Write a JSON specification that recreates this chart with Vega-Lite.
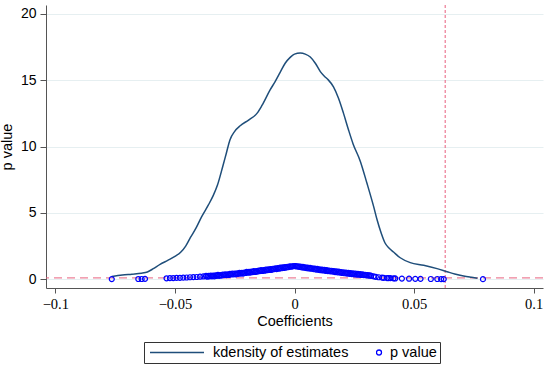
{
  "$schema": "https://vega.github.io/schema/vega-lite/v6.json",
  "width": 497,
  "height": 283,
  "autosize": "none",
  "padding": {"left": 46, "top": 5, "right": 7, "bottom": 79},
  "background": "white",
  "config": {"view": {"stroke": null}, "font": "Liberation Sans"},
  "datasets": {
    "density": [
      {"coef": -0.0764, "val": 0.20}, {"coef": -0.0720, "val": 0.32}, {"coef": -0.0680, "val": 0.38},
      {"coef": -0.0640, "val": 0.45}, {"coef": -0.0615, "val": 0.55}, {"coef": -0.0590, "val": 0.80},
      {"coef": -0.0562, "val": 1.12}, {"coef": -0.0530, "val": 1.42}, {"coef": -0.0500, "val": 1.72},
      {"coef": -0.0475, "val": 2.05}, {"coef": -0.0455, "val": 2.50}, {"coef": -0.0435, "val": 3.15},
      {"coef": -0.0412, "val": 3.85}, {"coef": -0.0388, "val": 4.72}, {"coef": -0.0360, "val": 5.60},
      {"coef": -0.0340, "val": 6.30}, {"coef": -0.0322, "val": 7.10}, {"coef": -0.0300, "val": 8.50},
      {"coef": -0.0285, "val": 9.50}, {"coef": -0.0270, "val": 10.50}, {"coef": -0.0250, "val": 11.15},
      {"coef": -0.0227, "val": 11.57}, {"coef": -0.0192, "val": 12.00}, {"coef": -0.0157, "val": 12.50},
      {"coef": -0.0136, "val": 13.10}, {"coef": -0.0102, "val": 14.27}, {"coef": -0.0081, "val": 14.90},
      {"coef": -0.0060, "val": 15.60}, {"coef": -0.0039, "val": 16.28}, {"coef": -0.0018, "val": 16.72},
      {"coef": 0.0000, "val": 16.97}, {"coef": 0.0024, "val": 17.05}, {"coef": 0.0045, "val": 16.97},
      {"coef": 0.0066, "val": 16.75}, {"coef": 0.0087, "val": 16.28}, {"coef": 0.0108, "val": 15.65},
      {"coef": 0.0125, "val": 15.30}, {"coef": 0.0140, "val": 15.05}, {"coef": 0.0163, "val": 14.50},
      {"coef": 0.0184, "val": 13.64}, {"coef": 0.0205, "val": 12.50}, {"coef": 0.0226, "val": 11.25},
      {"coef": 0.0245, "val": 10.20}, {"coef": 0.0275, "val": 8.90}, {"coef": 0.0303, "val": 7.23},
      {"coef": 0.0331, "val": 5.47}, {"coef": 0.0345, "val": 4.50}, {"coef": 0.0362, "val": 3.50},
      {"coef": 0.0378, "val": 2.75}, {"coef": 0.0395, "val": 2.35}, {"coef": 0.0414, "val": 2.05},
      {"coef": 0.0442, "val": 1.62}, {"coef": 0.0484, "val": 1.25}, {"coef": 0.0540, "val": 1.05},
      {"coef": 0.0596, "val": 0.80}, {"coef": 0.0638, "val": 0.57}, {"coef": 0.0670, "val": 0.40},
      {"coef": 0.0707, "val": 0.25}, {"coef": 0.0740, "val": 0.15}, {"coef": 0.0765, "val": 0.08}
    ],
    "pvals": [
      {"coef": -0.0764, "p": 0.01}, {"coef": -0.0653, "p": 0.02}, {"coef": -0.0639, "p": 0.02}, {"coef": -0.0625, "p": 0.03},
      {"coef": -0.0535, "p": 0.07}, {"coef": -0.0521, "p": 0.08}, {"coef": -0.0507, "p": 0.09}, {"coef": -0.0493, "p": 0.10},
      {"coef": -0.0479, "p": 0.11}, {"coef": -0.0465, "p": 0.12}, {"coef": -0.0451, "p": 0.13}, {"coef": -0.0437, "p": 0.15},
      {"coef": -0.0423, "p": 0.16}, {"coef": -0.0409, "p": 0.17}, {"coef": -0.0395, "p": 0.19}, {"coef": -0.0381, "p": 0.21},
      {"coef": -0.0370, "p": 0.25}, {"coef": -0.0365, "p": 0.19}, {"coef": -0.0360, "p": 0.25}, {"coef": -0.0355, "p": 0.22},
      {"coef": -0.0350, "p": 0.28}, {"coef": -0.0345, "p": 0.22}, {"coef": -0.0340, "p": 0.28}, {"coef": -0.0335, "p": 0.22},
      {"coef": -0.0330, "p": 0.30}, {"coef": -0.0325, "p": 0.26}, {"coef": -0.0320, "p": 0.33}, {"coef": -0.0315, "p": 0.26},
      {"coef": -0.0310, "p": 0.32}, {"coef": -0.0305, "p": 0.27}, {"coef": -0.0300, "p": 0.35}, {"coef": -0.0295, "p": 0.31},
      {"coef": -0.0290, "p": 0.37}, {"coef": -0.0285, "p": 0.31}, {"coef": -0.0280, "p": 0.37}, {"coef": -0.0275, "p": 0.32},
      {"coef": -0.0270, "p": 0.40}, {"coef": -0.0265, "p": 0.36}, {"coef": -0.0260, "p": 0.43}, {"coef": -0.0255, "p": 0.37},
      {"coef": -0.0250, "p": 0.42}, {"coef": -0.0245, "p": 0.37}, {"coef": -0.0240, "p": 0.45}, {"coef": -0.0235, "p": 0.41},
      {"coef": -0.0230, "p": 0.48}, {"coef": -0.0225, "p": 0.42}, {"coef": -0.0220, "p": 0.48}, {"coef": -0.0215, "p": 0.43},
      {"coef": -0.0210, "p": 0.51}, {"coef": -0.0205, "p": 0.47}, {"coef": -0.0200, "p": 0.55}, {"coef": -0.0195, "p": 0.49},
      {"coef": -0.0190, "p": 0.55}, {"coef": -0.0185, "p": 0.50}, {"coef": -0.0180, "p": 0.58}, {"coef": -0.0175, "p": 0.54},
      {"coef": -0.0170, "p": 0.61}, {"coef": -0.0165, "p": 0.55}, {"coef": -0.0160, "p": 0.61}, {"coef": -0.0155, "p": 0.57},
      {"coef": -0.0150, "p": 0.65}, {"coef": -0.0145, "p": 0.61}, {"coef": -0.0140, "p": 0.68}, {"coef": -0.0135, "p": 0.62},
      {"coef": -0.0130, "p": 0.68}, {"coef": -0.0125, "p": 0.64}, {"coef": -0.0120, "p": 0.72}, {"coef": -0.0115, "p": 0.68},
      {"coef": -0.0110, "p": 0.75}, {"coef": -0.0105, "p": 0.70}, {"coef": -0.0100, "p": 0.76}, {"coef": -0.0095, "p": 0.71},
      {"coef": -0.0090, "p": 0.79}, {"coef": -0.0085, "p": 0.76}, {"coef": -0.0080, "p": 0.83}, {"coef": -0.0075, "p": 0.77},
      {"coef": -0.0070, "p": 0.84}, {"coef": -0.0065, "p": 0.79}, {"coef": -0.0060, "p": 0.87}, {"coef": -0.0055, "p": 0.83},
      {"coef": -0.0050, "p": 0.90}, {"coef": -0.0045, "p": 0.85}, {"coef": -0.0040, "p": 0.91}, {"coef": -0.0035, "p": 0.88},
      {"coef": -0.0030, "p": 0.94}, {"coef": -0.0025, "p": 0.91}, {"coef": -0.0020, "p": 0.97}, {"coef": -0.0015, "p": 0.94},
      {"coef": -0.0010, "p": 0.98}, {"coef": -0.0005, "p": 0.98}, {"coef": 0.0000, "p": 1.00},
      {"coef": 0.0005, "p": 0.99}, {"coef": 0.0010, "p": 0.96}, {"coef": 0.0015, "p": 0.97}, {"coef": 0.0020, "p": 0.93},
      {"coef": 0.0025, "p": 0.95}, {"coef": 0.0030, "p": 0.90}, {"coef": 0.0035, "p": 0.93}, {"coef": 0.0040, "p": 0.87},
      {"coef": 0.0045, "p": 0.90}, {"coef": 0.0050, "p": 0.84}, {"coef": 0.0055, "p": 0.88}, {"coef": 0.0060, "p": 0.81},
      {"coef": 0.0065, "p": 0.85}, {"coef": 0.0070, "p": 0.79}, {"coef": 0.0075, "p": 0.83}, {"coef": 0.0080, "p": 0.76},
      {"coef": 0.0085, "p": 0.80}, {"coef": 0.0090, "p": 0.73}, {"coef": 0.0095, "p": 0.78}, {"coef": 0.0100, "p": 0.71},
      {"coef": 0.0105, "p": 0.75}, {"coef": 0.0110, "p": 0.68}, {"coef": 0.0115, "p": 0.73}, {"coef": 0.0120, "p": 0.66},
      {"coef": 0.0125, "p": 0.70}, {"coef": 0.0130, "p": 0.63}, {"coef": 0.0135, "p": 0.68}, {"coef": 0.0140, "p": 0.61},
      {"coef": 0.0145, "p": 0.66}, {"coef": 0.0150, "p": 0.59}, {"coef": 0.0155, "p": 0.64}, {"coef": 0.0160, "p": 0.57},
      {"coef": 0.0165, "p": 0.61}, {"coef": 0.0170, "p": 0.54}, {"coef": 0.0175, "p": 0.59}, {"coef": 0.0180, "p": 0.52},
      {"coef": 0.0185, "p": 0.57}, {"coef": 0.0190, "p": 0.50}, {"coef": 0.0195, "p": 0.54}, {"coef": 0.0200, "p": 0.47},
      {"coef": 0.0205, "p": 0.52}, {"coef": 0.0210, "p": 0.45}, {"coef": 0.0215, "p": 0.50}, {"coef": 0.0220, "p": 0.43},
      {"coef": 0.0225, "p": 0.48}, {"coef": 0.0230, "p": 0.41}, {"coef": 0.0235, "p": 0.46}, {"coef": 0.0240, "p": 0.39},
      {"coef": 0.0245, "p": 0.44}, {"coef": 0.0250, "p": 0.37}, {"coef": 0.0255, "p": 0.42}, {"coef": 0.0260, "p": 0.35},
      {"coef": 0.0265, "p": 0.40}, {"coef": 0.0270, "p": 0.34}, {"coef": 0.0275, "p": 0.38}, {"coef": 0.0280, "p": 0.32},
      {"coef": 0.0285, "p": 0.36}, {"coef": 0.0290, "p": 0.31}, {"coef": 0.0295, "p": 0.34}, {"coef": 0.0300, "p": 0.29},
      {"coef": 0.0305, "p": 0.32}, {"coef": 0.0310, "p": 0.27}, {"coef": 0.0315, "p": 0.30}, {"coef": 0.0320, "p": 0.26},
      {"coef": 0.0331, "p": 0.22}, {"coef": 0.0340, "p": 0.18}, {"coef": 0.0352, "p": 0.15}, {"coef": 0.0366, "p": 0.12},
      {"coef": 0.0373, "p": 0.11}, {"coef": 0.0387, "p": 0.09}, {"coef": 0.0393, "p": 0.08}, {"coef": 0.0401, "p": 0.08},
      {"coef": 0.0414, "p": 0.07}, {"coef": 0.0421, "p": 0.06}, {"coef": 0.0449, "p": 0.05}, {"coef": 0.0479, "p": 0.04},
      {"coef": 0.0505, "p": 0.03}, {"coef": 0.0527, "p": 0.03}, {"coef": 0.0570, "p": 0.02}, {"coef": 0.0597, "p": 0.02},
      {"coef": 0.0613, "p": 0.01}, {"coef": 0.0624, "p": 0.01}, {"coef": 0.0788, "p": 0.005}
    ],
    "refs": [{"pline": 0.1, "cline": 0.063}]
  },
  "encoding": {
    "x": {
      "type": "quantitative",
      "scale": {"domain": [-0.1039, 0.1039], "nice": false, "zero": false},
      "axis": {
        "title": "Coefficients",
        "values": [-0.1, -0.05, 0, 0.05, 0.1],
        "format": "~g",
        "grid": false,
        "domainColor": "#555555",
        "tickColor": "#555555",
        "tickSize": 5,
        "labelPadding": 4,
        "labelFont": "Liberation Serif",
        "labelFontSize": 14.5,
        "labelColor": "#000000",
        "labelFlush": false,
        "titleFont": "Liberation Sans",
        "titleFontSize": 14.5,
        "titleFontWeight": "normal",
        "titleColor": "#000000",
        "titleY": 37,
        "titleBaseline": "alphabetic"
      }
    },
    "y": {
      "type": "quantitative",
      "scale": {"domain": [-0.66, 20.67], "nice": false, "zero": false},
      "axis": {
        "title": "p value",
        "values": [0, 5, 10, 15, 20],
        "grid": true,
        "gridColor": "#e6eff1",
        "gridWidth": 1,
        "domainColor": "#555555",
        "tickColor": "#555555",
        "tickSize": 6,
        "labelPadding": 4,
        "labelFont": "Liberation Sans",
        "labelFontSize": 14,
        "labelColor": "#000000",
        "titleFont": "Liberation Sans",
        "titleFontSize": 14.5,
        "titleFontWeight": "normal",
        "titleColor": "#000000",
        "titleX": -32,
        "titleBaseline": "bottom"
      }
    }
  },
  "layer": [
    {
      "data": {"name": "refs"},
      "mark": {"type": "rule", "color": "#e8607e", "strokeWidth": 1, "strokeDash": [8, 5]},
      "encoding": {"y": {"field": "pline", "type": "quantitative"}}
    },
    {
      "data": {"name": "refs"},
      "mark": {"type": "rule", "color": "#e8607e", "strokeWidth": 1, "strokeDash": [3, 2]},
      "encoding": {"x": {"field": "cline", "type": "quantitative"}}
    },
    {
      "data": {"name": "density"},
      "transform": [{"calculate": "'kdensity of estimates'", "as": "series"}],
      "mark": {"type": "line", "strokeWidth": 1.5, "interpolate": "monotone"},
      "encoding": {
        "x": {"field": "coef", "type": "quantitative"},
        "y": {"field": "val", "type": "quantitative"},
        "color": {
          "field": "series",
          "type": "nominal",
          "scale": {"domain": ["kdensity of estimates", "p value"], "range": ["#1f4e7a", "#0000ff"]},
          "legend": {
            "orient": "none",
            "legendX": 98,
            "legendY": 337,
            "direction": "horizontal",
            "title": null,
            "strokeColor": "#333333",
            "padding": 3,
            "columnPadding": 27,
            "labelFont": "Liberation Sans",
            "labelFontSize": 14.5,
            "labelColor": "#000000",
            "symbolSize": 25,
            "clipHeight": 15,
            "encode": {
              "symbols": {
                "update": {
                  "shape": {"signal": "datum.value === 'p value' ? 'circle' : 'stroke'"},
                  "size": {"signal": "datum.value === 'p value' ? 25 : 2916"},
                  "x": {"signal": "datum.value === 'p value' ? 3 : 30"},
                  "strokeWidth": {"signal": "datum.value === 'p value' ? 1.3 : 1.5"},
                  "fill": {"value": "transparent"}
                }
              },
              "labels": {
                "update": {
                  "x": {"signal": "datum.value === 'p value' ? 14 : 66"}
                }
              }
            }
          }
        }
      }
    },
    {
      "data": {"name": "pvals"},
      "transform": [{"calculate": "'p value'", "as": "series"}],
      "mark": {"type": "point", "filled": false, "size": 25, "strokeWidth": 1.2, "opacity": 1},
      "encoding": {
        "x": {"field": "coef", "type": "quantitative"},
        "y": {"field": "p", "type": "quantitative"},
        "color": {
          "field": "series",
          "type": "nominal",
          "scale": {"domain": ["kdensity of estimates", "p value"], "range": ["#1f4e7a", "#0000ff"]},
          "legend": null
        }
      }
    }
  ]
}
